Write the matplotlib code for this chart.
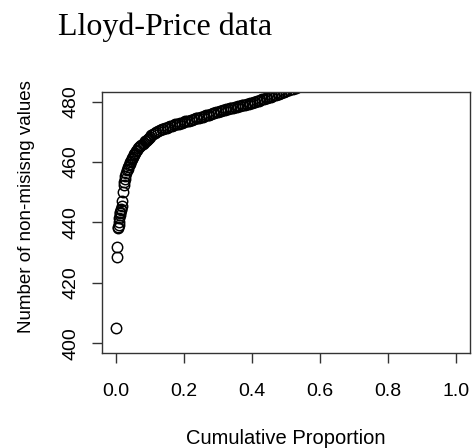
import matplotlib.pyplot as plt

# cumulative proportion vs number of non-missing values
cum_prop = [0.001, 0.004, 0.005, 0.007, 0.008, 0.009, 0.010, 0.011, 0.012, 0.013,
            0.014, 0.016, 0.017, 0.018, 0.020, 0.022, 0.024, 0.025, 0.027, 0.029,
            0.031, 0.033, 0.035, 0.037, 0.039, 0.041, 0.043, 0.045, 0.047, 0.049,
            0.051, 0.053, 0.055, 0.058, 0.061, 0.064, 0.067, 0.070, 0.073, 0.076,
            0.079, 0.082, 0.085, 0.088, 0.091, 0.094, 0.097,
            0.100, 0.105, 0.110, 0.115, 0.120, 0.125, 0.130, 0.135, 0.140, 0.145,
            0.150, 0.155, 0.160, 0.165, 0.170, 0.175, 0.180, 0.185, 0.190, 0.195,
            0.200, 0.205, 0.210, 0.215, 0.220, 0.225, 0.230, 0.235, 0.240, 0.245,
            0.250, 0.255, 0.260, 0.265, 0.270, 0.275, 0.280, 0.285, 0.290, 0.295,
            0.300, 0.305, 0.310, 0.315, 0.320, 0.325, 0.330, 0.335, 0.340, 0.345,
            0.350, 0.355, 0.360, 0.365, 0.370, 0.375, 0.380, 0.385, 0.390, 0.395,
            0.400, 0.405, 0.410, 0.415, 0.420, 0.425, 0.430, 0.435, 0.440, 0.445,
            0.450, 0.455, 0.460, 0.465, 0.470, 0.475, 0.480, 0.485, 0.490, 0.495,
            0.500, 0.510, 0.520, 0.530, 0.540, 0.550, 0.560, 0.570, 0.580, 0.590,
            0.600]
n_values = [405, 428.5, 432, 438, 438.5, 439, 440, 441.5, 442.5, 443,
            443.5, 444, 444.5, 445.5, 447, 450, 452.5, 453.5, 454.5, 455.5,
            456.5, 457.2, 457.8, 458.3, 458.9, 459.4, 459.9, 460.4, 460.9, 461.4,
            461.8, 462.2, 462.6, 463.1, 463.6, 464.0, 464.5, 464.9, 465.3, 465.7,
            466.1, 466.4, 466.8, 467.1, 467.4, 467.7, 468.0,
            468.4, 468.8, 469.2, 469.5, 469.9, 470.2, 470.5, 470.8, 471.0, 471.2,
            471.4, 471.6, 471.8, 472.0, 472.2, 472.4, 472.6, 472.7, 472.9, 473.0,
            473.2, 473.4, 473.5, 473.7, 473.9, 474.0, 474.2, 474.4, 474.5, 474.7,
            474.9, 475.0, 475.2, 475.4, 475.6, 475.7, 475.9, 476.1, 476.3, 476.4,
            476.6, 476.8, 476.9, 477.1, 477.2, 477.4, 477.5, 477.7, 477.8, 478.0,
            478.1, 478.3, 478.4, 478.6, 478.7, 478.9, 479.0, 479.2, 479.3, 479.5,
            479.6, 479.8, 480.0, 480.1, 480.3, 480.5, 480.7, 480.8, 481.0, 481.2,
            481.4, 481.6, 481.8, 482.0, 482.2, 482.4, 482.6, 482.8, 483.0, 483.2,
            483.4, 483.8, 484.2, 484.6, 485.0, 485.4, 485.8, 486.2, 486.6, 487.0,
            487.4]

xticks = [0.0, 0.2, 0.4, 0.6, 0.8, 1.0]
yticks = [400, 420, 440, 460, 480]

fig = plt.figure(figsize=(4.72, 4.48), dpi=100)
ax = fig.add_axes([0.216, 0.212, 0.780, 0.583])

ax.plot(cum_prop, n_values, 'o', mfc='none', mec='black', ms=7.5, mew=1.05)

# R style: 4% padding around the range
ax.set_xlim(-0.04, 1.04)
ax.set_ylim(396.8, 483.2)
ax.set_xticks(xticks)
ax.set_xticklabels(['%.1f' % v for v in xticks])
ax.set_yticks(yticks)
ax.set_yticklabels([str(v) for v in yticks], rotation=90, va='center')

for s in ax.spines.values():
    s.set_color('#333333')
    s.set_linewidth(1.0)
ax.tick_params(direction='out', length=7.5, width=1.0, color='#333333', labelsize=14)
ax.tick_params(axis='x', pad=14)
ax.tick_params(axis='y', pad=9)
for lab in ax.get_xticklabels() + ax.get_yticklabels():
    lab.set_family('Liberation Sans')

ax.set_xlabel('Cumulative Proportion', family='Liberation Sans', fontsize=14.5, labelpad=21)
ax.set_ylabel('Number of non-misisng values', family='Liberation Sans', fontsize=13.5)
ax.yaxis.set_label_coords(-0.182, 0.56)

fig.text(0.123, 1 - 35 / 448, 'Lloyd-Price data', family='Liberation Serif',
         fontsize=23, ha='left', va='baseline')

fig.savefig('out.png', dpi=100)
